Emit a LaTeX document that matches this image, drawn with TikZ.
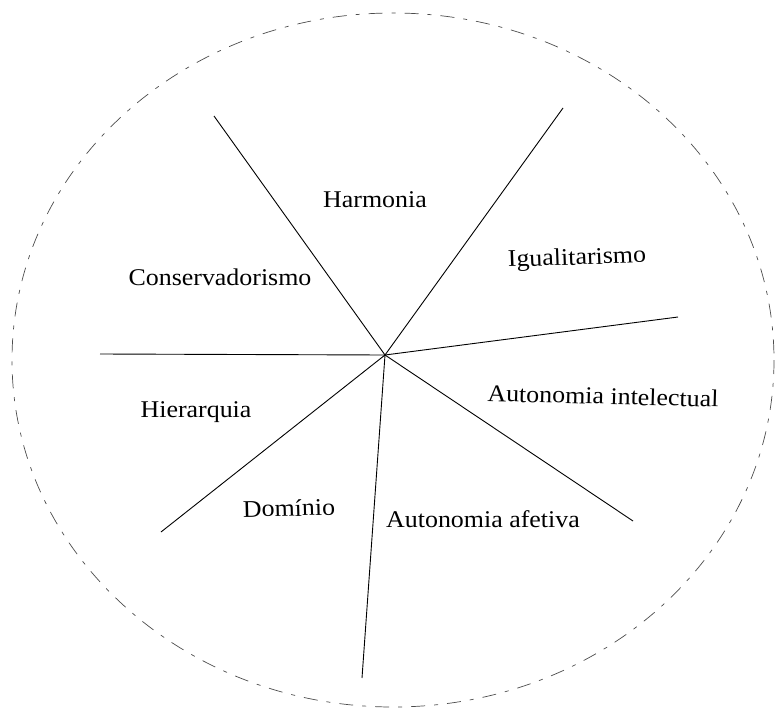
\documentclass[tikz,border=0pt]{standalone}
\usepackage{fontspec}
\setmainfont{Liberation Serif}
\begin{document}
\begin{tikzpicture}[x=1pt,y=-1pt,
  spoke/.style={draw=black,line width=0.9pt},
  rim/.style={draw=black!70,line width=0.7pt,dash pattern=on 14pt off 9pt on 4pt off 9pt},
  lbl/.style={font=\fontsize{24}{28}\selectfont,inner sep=0pt,xscale=1.08}]
\useasboundingbox (0,0) rectangle (776,709);
\draw[rim] (393,360) ellipse [x radius=381, y radius=347];
\coordinate (c) at (385,355);
\coordinate (p1) at (214,116);
\coordinate (p2) at (563,108);
\coordinate (p3) at (678,317);
\coordinate (p4) at (633,521);
\coordinate (p5) at (362,678);
\coordinate (p6) at (161,532);
\coordinate (p7) at (100,354);
\foreach \p in {p1,p2,p3,p4,p5,p6,p7} \draw[spoke] (c) -- (\p);
\node[lbl] (harm) at (375,200) {Harmonia};
\node[lbl,rotate=2] (igual) at (577,259) {Igualitarismo};
\node[lbl] (cons) at (220,277) {Conservadorismo};
\node[lbl,rotate=-1.5] (autint) at (603,396) {Autonomia intelectual};
\node[lbl] (hier) at (196,412) {Hierarquia};
\node[lbl,rotate=1.5] (dom) at (289,508) {Domínio};
\node[lbl] (autaf) at (483,519) {Autonomia afetiva};
\end{tikzpicture}
\end{document}
